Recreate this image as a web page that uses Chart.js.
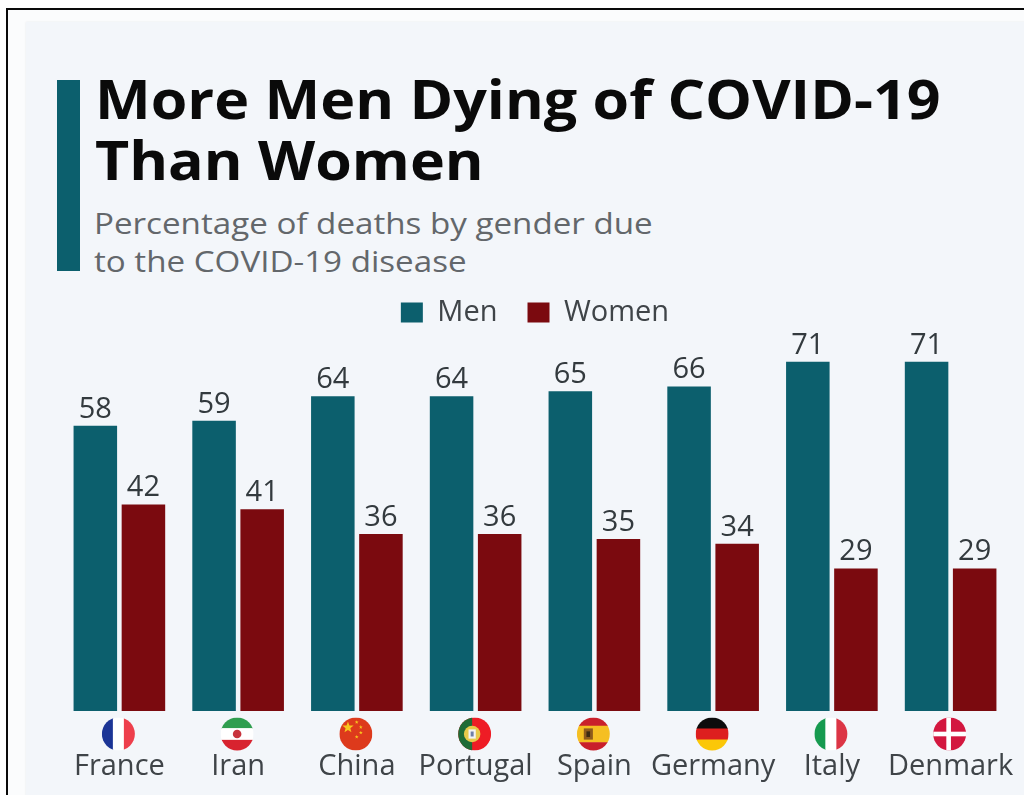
<!DOCTYPE html>
<html>
<head>
<meta charset="utf-8">
<script src="https://cdn.jsdelivr.net/npm/chart.js@4"></script>
<style>
  html, body { margin: 0; padding: 0; background: #fff; width: 1024px; height: 795px; overflow: hidden; }
  #frame { position: absolute; left: 6px; top: 8px; width: 1030px; height: 800px; border: 2px solid #0a0a0a; background: #fbfcfd; box-sizing: border-box; }
  #card { position: absolute; left: 26px; top: 22px; width: 1010px; height: 790px; background: #f3f6fa; box-shadow: 0 0 2px #e6e9ec; }
  #accent { position: absolute; left: 57px; top: 80px; width: 23px; height: 191px; background: #0c5f6d; }
  #title { position: absolute; left: 95px; top: 68px; margin: 0; font: 700 54.5px/61px "Open Sans", sans-serif; color: #0a0a0a; white-space: nowrap; transform: scaleX(1.085); transform-origin: left top; }
  #sub { position: absolute; left: 94px; top: 204px; margin: 0; font: 400 30px/38px "Open Sans", sans-serif; color: #63676b; white-space: nowrap; transform: scaleX(1.105); transform-origin: left top; }
  #wrap { position: absolute; left: 40px; top: 268px; width: 990px; height: 527px; }
</style>
</head>
<body>
<div id="frame"></div>
<div id="card"></div>
<div id="accent"></div>
<h1 id="title">More Men Dying of COVID-19<br>Than Women</h1>
<p id="sub">Percentage of deaths by gender due<br>to the COVID-19 disease</p>
<div id="wrap"><canvas id="chart" width="990" height="527"></canvas></div>
<script>
const countries = ['France', 'Iran', 'China', 'Portugal', 'Spain', 'Germany', 'Italy', 'Denmark'];
const men = [58, 59, 64, 64, 65, 66, 71, 71];
const women = [42, 41, 36, 36, 35, 34, 29, 29];

const MEN_COLOR = '#0c5f6d';
const WOMEN_COLOR = '#7b0a0f';
const FONT = '"Open Sans", sans-serif';

// Horizontal and vertical band helpers for the round flag icons (unit: radius r).
function hBands(c, r, cols, weights) {
  const total = weights.reduce((a, b) => a + b, 0);
  let y = -r;
  cols.forEach((col, i) => {
    const h = 2 * r * weights[i] / total;
    c.fillStyle = col; c.fillRect(-r, y, 2 * r, h + 0.5); y += h;
  });
}
function vBands(c, r, cols) {
  cols.forEach((col, i) => {
    c.fillStyle = col; c.fillRect(-r + i * 2 * r / cols.length, -r, 2 * r / cols.length + 0.5, 2 * r);
  });
}
function star(c, x, y, s, col) {
  c.fillStyle = col; c.beginPath();
  for (let i = 0; i < 10; i++) {
    const a = -Math.PI / 2 + i * Math.PI / 5, q = i % 2 ? s * 0.42 : s;
    c.lineTo(x + q * Math.cos(a), y + q * Math.sin(a));
  }
  c.closePath(); c.fill();
}
const flags = {
  France: (c, r) => vBands(c, r, ['#1c3596', '#ffffff', '#ee3f4c']),
  Iran: (c, r) => {
    hBands(c, r, ['#2f9e4f', '#ffffff', '#d8232f'], [1, 1.1, 1]);
    c.fillStyle = '#c8323c';
    c.beginPath(); c.arc(0, 0, r * 0.26, 0, Math.PI * 2); c.fill();
  },
  China: (c, r) => {
    c.fillStyle = '#dd3a1c'; c.fillRect(-r, -r, 2 * r, 2 * r);
    star(c, -r * 0.48, -r * 0.4, r * 0.36, '#f7c51e');
    star(c, r * 0.05, -r * 0.72, r * 0.12, '#f7c51e');
    star(c, r * 0.3, -r * 0.42, r * 0.12, '#f7c51e');
    star(c, r * 0.3, -r * 0.08, r * 0.12, '#f7c51e');
    star(c, r * 0.05, r * 0.18, r * 0.12, '#f7c51e');
  },
  Portugal: (c, r) => {
    c.fillStyle = '#ee1c25'; c.fillRect(-r, -r, 2 * r, 2 * r);
    c.fillStyle = '#1f6b36'; c.fillRect(-r, -r, r * 0.85, 2 * r);
    c.fillStyle = '#e8c94a'; c.beginPath(); c.arc(-r * 0.15, 0, r * 0.5, 0, Math.PI * 2); c.fill();
    c.fillStyle = '#f3f3f3'; c.fillRect(-r * 0.37, -r * 0.28, r * 0.44, r * 0.56);
    c.fillStyle = '#6f7fa8'; c.fillRect(-r * 0.24, -r * 0.15, r * 0.18, r * 0.3);
  },
  Spain: (c, r) => {
    hBands(c, r, ['#c9202b', '#f5bf22', '#c9202b'], [1, 2, 1]);
    c.fillStyle = '#8d5a1c'; c.fillRect(-r * 0.58, -r * 0.34, r * 0.55, r * 0.68);
    c.fillStyle = '#3b2a12'; c.fillRect(-r * 0.42, -r * 0.16, r * 0.22, r * 0.34);
  },
  Germany: (c, r) => hBands(c, r, ['#0c0c0c', '#dd1f1f', '#fbc708'], [1, 1, 1]),
  Italy: (c, r) => vBands(c, r, ['#169a4f', '#ffffff', '#dc3545']),
  Denmark: (c, r) => {
    c.fillStyle = '#d3173f'; c.fillRect(-r, -r, 2 * r, 2 * r);
    c.fillStyle = '#ffffff';
    c.fillRect(-r, -r * 0.14, 2 * r, r * 0.28);
    c.fillRect(-r * 0.2, -r, r * 0.28, 2 * r);
  }
};

// Round flag under each category, placed on the category scale.
const flagPlugin = {
  id: 'flagIcons',
  afterDraw(chart) {
    const c = chart.ctx, xs = chart.scales.x, r = 16.5;
    const cy = chart.chartArea.bottom + 23;
    countries.forEach((name, i) => {
      c.save();
      c.translate(xs.getPixelForTick(i) - 1, cy);
      c.beginPath(); c.arc(0, 0, r, 0, Math.PI * 2); c.clip();
      flags[name](c, r);
      c.restore();
    });
  }
};

// Value printed above each bar.
const valuePlugin = {
  id: 'barValues',
  afterDatasetsDraw(chart) {
    const c = chart.ctx;
    c.save();
    c.font = '400 29px ' + FONT;
    c.fillStyle = '#333a3e';
    c.textAlign = 'center';
    c.textBaseline = 'alphabetic';
    chart.data.datasets.forEach((ds, d) => {
      chart.getDatasetMeta(d).data.forEach((bar, i) => {
        c.fillText(String(ds.data[i]), bar.x, bar.y - 8);
      });
    });
    c.restore();
  }
};

new Chart(document.getElementById('chart'), {
  type: 'bar',
  data: {
    labels: countries,
    datasets: [
      { label: 'Men', data: men, backgroundColor: MEN_COLOR, categoryPercentage: 0.81, barPercentage: 0.905 },
      { label: 'Women', data: women, backgroundColor: WOMEN_COLOR, categoryPercentage: 0.81, barPercentage: 0.905 }
    ]
  },
  options: {
    responsive: false,
    animation: false,
    layout: { padding: { left: 20, right: 20, top: 0, bottom: 0 } },
    plugins: {
      title: { display: false },
      tooltip: { enabled: false },
      legend: {
        position: 'top',
        labels: {
          boxWidth: 22, boxHeight: 20, padding: 30,
          color: '#3f4448',
          font: { family: FONT, size: 29 }
        }
      }
    },
    scales: {
      x: {
        grid: { display: false, drawTicks: false },
        border: { display: false },
        afterFit(scale) { scale.height = 84; scale.paddingLeft = 0; scale.paddingRight = 0; },
        ticks: {
          autoSkip: false, maxRotation: 0, minRotation: 0, padding: 38,
          color: '#3f4448',
          font: { family: FONT, size: 29 }
        }
      },
      y: { display: false, min: 0, max: 76.05 }
    }
  },
  plugins: [flagPlugin, valuePlugin]
});
</script>
</body>
</html>
